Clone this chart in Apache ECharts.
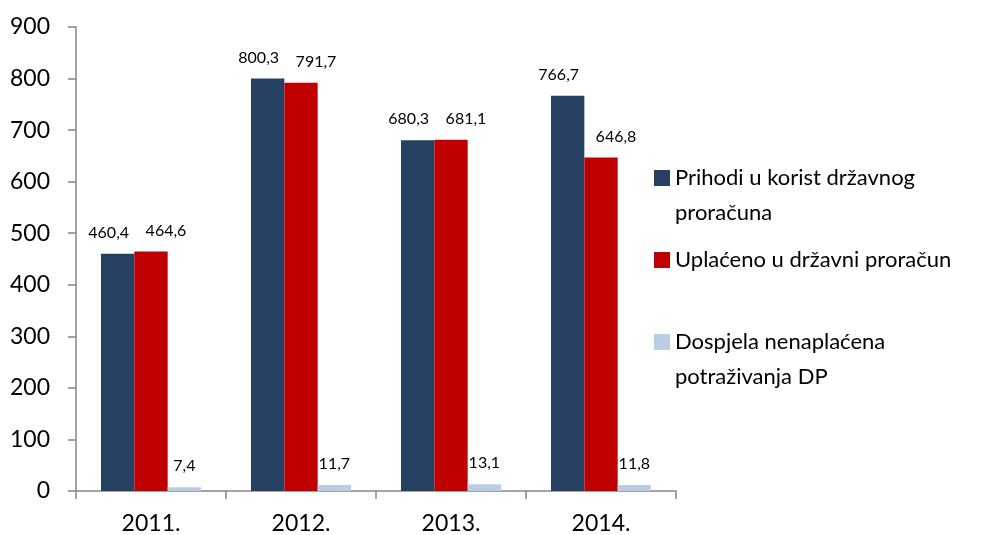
<!DOCTYPE html>
<html>
<head>
<meta charset="utf-8">
<script src="https://cdn.jsdelivr.net/npm/echarts@6/dist/echarts.min.js"></script>
<style>
  html, body { margin: 0; padding: 0; background: #fff; }
  #chart { width: 989px; height: 535px; }
</style>
</head>
<body>
<div id="chart"></div>
<script>
// Years on the category axis
const years = ['2011.', '2012.', '2013.', '2014.'];

// Series names and values (millions)
const seriesNames = [
  'Prihodi u korist državnog proračuna',
  'Uplaćeno u državni proračun',
  'Dospjela nenaplaćena potraživanja DP'
];
const prihodi = [460.4, 800.3, 680.3, 766.7];
const uplaceno = [464.6, 791.7, 681.1, 646.8];
const dospjela = [7.4, 11.7, 13.1, 11.8];

// Legend text as wrapped on screen
const legendLines = {
  'Prihodi u korist državnog proračuna': ['Prihodi u korist državnog', 'proračuna'],
  'Uplaćeno u državni proračun': ['Uplaćeno u državni proračun'],
  'Dospjela nenaplaćena potraživanja DP': ['Dospjela nenaplaćena', 'potraživanja DP']
};

const FONT = 'Lato, "Open Sans", sans-serif';
const colors = ['#254061', '#C00000', '#B9CDE5'];
const labelShift = [-9, 15, 0];

const fmt = v => String(v).replace('.', ',');

const chart = echarts.init(document.getElementById('chart'), null, { renderer: 'canvas' });

const values = [prihodi, uplaceno, dospjela];

chart.setOption({
  animation: false,
  backgroundColor: '#ffffff',
  textStyle: { fontFamily: FONT },
  grid: { left: 76, right: 313, top: 27, bottom: 44, containLabel: false },
  legend: {
    orient: 'vertical',
    left: 654,
    top: 125.5,
    padding: 0,
    itemGap: 12,
    itemWidth: 16,
    itemHeight: 16,
    icon: 'rect',
    selectedMode: false,
    data: seriesNames,
    formatter: name => {
      const lines = legendLines[name];
      // Extra blank line on top keeps the icon level with the first text line
      return lines.length > 1 ? '\n' + lines.join('\n') : lines[0];
    },
    textStyle: { fontFamily: FONT, fontSize: 22, color: '#000', lineHeight: 35 }
  },
  xAxis: {
    type: 'category',
    data: years,
    axisLine: { lineStyle: { color: '#868686', width: 1.5 } },
    axisTick: { show: true, length: 8, inside: false, lineStyle: { color: '#868686', width: 1.5 } },
    axisLabel: { fontFamily: FONT, fontSize: 23, color: '#000', margin: 21 },
    splitLine: { show: false }
  },
  yAxis: {
    type: 'value',
    min: 0,
    max: 900,
    interval: 100,
    axisLine: { show: true, lineStyle: { color: '#868686', width: 1.5 } },
    axisTick: { show: true, length: 8, lineStyle: { color: '#868686', width: 1.5 } },
    axisLabel: { fontFamily: FONT, fontSize: 23, color: '#000', margin: 26 },
    splitLine: { show: false }
  },
  series: seriesNames.map((name, i) => ({
    name: name,
    type: 'bar',
    data: values[i],
    barGap: '0%',
    barCategoryGap: '33.33%',
    itemStyle: { color: colors[i] },
    label: {
      show: true,
      position: 'top',
      distance: 13,
      offset: [labelShift[i], 0],
      fontFamily: FONT,
      fontSize: 16,
      color: '#000',
      formatter: p => fmt(p.value)
    }
  }))
});
</script>
</body>
</html>
